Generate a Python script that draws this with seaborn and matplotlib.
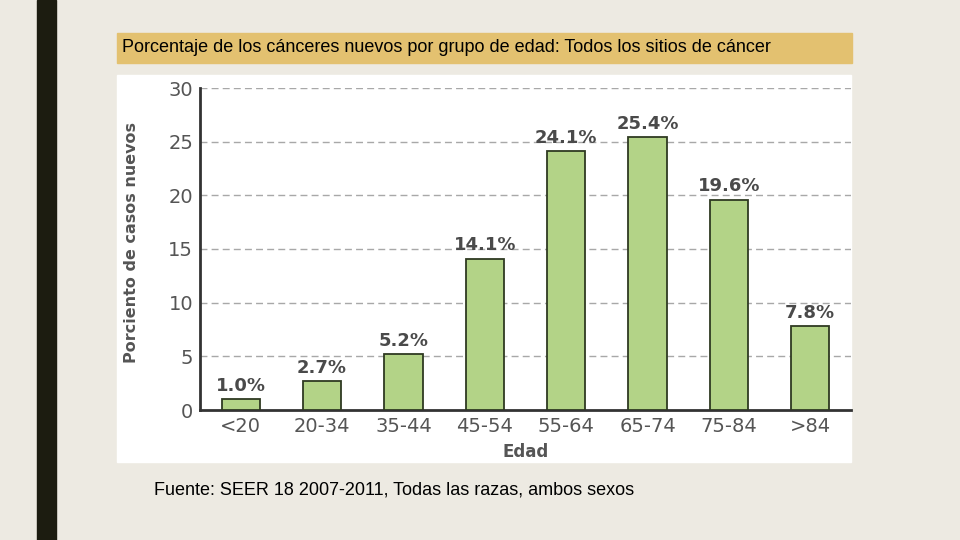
import numpy as np
import pandas as pd
import matplotlib
matplotlib.use('Agg')
import matplotlib.pyplot as plt
from matplotlib.patches import Rectangle
import seaborn as sns

# data
age_groups = ['<20', '20-34', '35-44', '45-54', '55-64', '65-74', '75-84', '>84']
percent_new = [1.0, 2.7, 5.2, 14.1, 24.1, 25.4, 19.6, 7.8]
y_ticks = [0, 5, 10, 15, 20, 25, 30]

title = 'Porcentaje de los cánceres nuevos por grupo de edad: Todos los sitios de cáncer'
source = 'Fuente: SEER 18 2007-2011, Todas las razas, ambos sexos'

bg = '#EDEAE2'
bar_color = '#B3D387'
text_grey = '#4a4a4a'


def main():
    df = pd.DataFrame({'Edad': age_groups, 'pct': percent_new})
    sns.set_style('white')
    plt.rcParams['font.family'] = ['DejaVu Sans']

    fig = plt.figure(figsize=(9.6, 5.4), dpi=100, facecolor=bg)

    # slide decorations
    fig.patches.append(Rectangle((37 / 960, 0), 19 / 960, 1, transform=fig.transFigure,
                                 color='#1C1C10', zorder=-5))
    fig.patches.append(Rectangle((117 / 960, 1 - 63 / 540), 735 / 960, 30 / 540,
                                 transform=fig.transFigure, color='#E3C170', zorder=-5))
    fig.patches.append(Rectangle((117 / 960, 1 - 462 / 540), 734 / 960, 387 / 540,
                                 transform=fig.transFigure, color='white', zorder=-5))
    fig.text(122 / 960, 1 - 48 / 540, title, family='Liberation Sans', fontsize=13,
             va='center', ha='left', color='black')
    fig.text(154 / 960, 1 - 490 / 540, source, family='Liberation Sans', fontsize=13,
             va='center', ha='left', color='black')

    ax = fig.add_axes([200 / 960, 1 - 410 / 540, 651 / 960, 322 / 540])
    ax.set_zorder(5)
    ax.patch.set_alpha(0)
    sns.barplot(data=df, x='Edad', y='pct', color=bar_color, width=0.47,
                edgecolor='#2f3a22', linewidth=1.3, saturation=1, ax=ax, zorder=3)
    ax.set_ylim(0, 30)
    ax.set_xlim(-0.5, len(age_groups) - 0.5)
    ax.set_yticks(y_ticks)
    for t in y_ticks[1:]:
        ax.axhline(t, color='#a8a8a8', linestyle=(0, (5, 3)), linewidth=1, zorder=1)

    ax.bar_label(ax.containers[0], labels=[f'{v:.1f}%' for v in percent_new], padding=3,
                 fontsize=13, fontweight='bold', color=text_grey)

    for s in ['top', 'right']:
        ax.spines[s].set_visible(False)
    for s in ['left', 'bottom']:
        ax.spines[s].set_color('#333333')
        ax.spines[s].set_linewidth(2)
    ax.tick_params(axis='both', length=0, labelsize=14, labelcolor='#555555', pad=5)
    ax.set_xlabel('Edad', fontsize=12, fontweight='bold', color='#555555')
    ax.set_ylabel('Porciento de casos nuevos', fontsize=11.5, fontweight='bold',
                  color='#555555')
    ax.xaxis.set_label_coords(0.5, -33 / 322)
    ax.yaxis.set_label_coords(-61 / 651, 0.52)

    fig.savefig('out.png', dpi=100, facecolor=bg)
    plt.close(fig)


main()
